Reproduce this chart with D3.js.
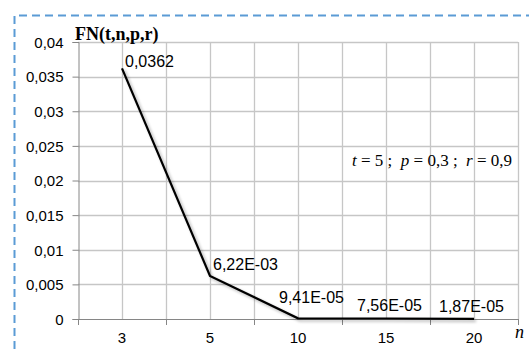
<!DOCTYPE html>
<html>
<head>
<meta charset="utf-8">
<script src="https://cdnjs.cloudflare.com/ajax/libs/d3/7.8.5/d3.min.js"></script>
<style>
body { margin: 0; background: #fff; }
svg { display: block; }
</style>
</head>
<body>
<script>
// data
var nValues = ["3", "5", "10", "15", "20"];
var fnValues = [0.0362, 0.00622, 0.0000941, 0.0000756, 0.0000187];
var pointLabels = ["0,0362", "6,22E-03", "9,41E-05", "7,56E-05", "1,87E-05"];
var yTicks = [0, 0.005, 0.01, 0.015, 0.02, 0.025, 0.03, 0.035, 0.04];
var yTickLabels = ["0", "0,005", "0,01", "0,015", "0,02", "0,025", "0,03", "0,035", "0,04"];

var width = 529, height = 349;

var svg = d3.select("body").append("svg")
    .attr("width", width)
    .attr("height", height);

// dashed frame
svg.append("path")
    .attr("d", "M14.5," + height + " V15.5 H" + width)
    .attr("fill", "none")
    .attr("stroke", "#5b9bd5")
    .attr("stroke-width", 2)
    .attr("stroke-dasharray", "8,5");

var x = d3.scaleBand()
    .domain(nValues)
    .range([78, 518]);

var y = d3.scaleLinear()
    .domain([0, 0.04])
    .range([319, 42]);

// vertical grid: band edges and band centres
var gridX = [];
nValues.forEach(function (d) {
    gridX.push(x(d));
    gridX.push(x(d) + x.bandwidth() / 2);
});
gridX.push(x.range()[1]);

svg.append("g").selectAll("line")
    .data(gridX.slice(1))
    .enter()
    .append("line")
    .attr("x1", function (d) { return Math.round(d) + 0.5; })
    .attr("x2", function (d) { return Math.round(d) + 0.5; })
    .attr("y1", y(0.04))
    .attr("y2", y(0))
    .style("stroke", "#c6c6c6")
    .style("stroke-width", 1.3);

svg.append("g").selectAll("line")
    .data(yTicks.slice(1))
    .enter()
    .append("line")
    .attr("x1", 78)
    .attr("x2", 518)
    .attr("y1", function (d) { return Math.round(y(d)) + 0.5; })
    .attr("y2", function (d) { return Math.round(y(d)) + 0.5; })
    .style("stroke", "#c6c6c6")
    .style("stroke-width", 1.3);

// y axis
var yAxis = d3.axisLeft(y)
    .tickValues(yTicks)
    .tickSize(6)
    .tickFormat(function (d, i) { return yTickLabels[i]; });
var yAxisGroup = svg.append("g")
    .attr("transform", "translate(78.5,0)")
    .call(yAxis);
yAxisGroup.selectAll("text")
    .attr("x", -15)
    .attr("dy", "0.35em")
    .style("font-family", "Liberation Sans, Arial, sans-serif")
    .style("font-size", "15px")
    .style("fill", "#000");
yAxisGroup.selectAll("line, path").style("stroke", "#868686");

// x axis: ticks at band edges, labels at centres
var xEdges = nValues.map(function (d) { return x(d); }).concat([x.range()[1]]);
var xAxisGroup = svg.append("g");
xAxisGroup.append("line")
    .attr("x1", 78)
    .attr("x2", 518)
    .attr("y1", y(0) + 0.5)
    .attr("y2", y(0) + 0.5)
    .style("stroke", "#868686");
xAxisGroup.selectAll(".tk")
    .data(xEdges)
    .enter()
    .append("line")
    .attr("x1", function (d) { return Math.round(d) + 0.5; })
    .attr("x2", function (d) { return Math.round(d) + 0.5; })
    .attr("y1", y(0))
    .attr("y2", y(0) + 6)
    .style("stroke", "#868686");
xAxisGroup.selectAll("text")
    .data(nValues)
    .enter()
    .append("text")
    .attr("x", function (d) { return x(d) + x.bandwidth() / 2; })
    .attr("y", 343)
    .attr("text-anchor", "middle")
    .style("font-family", "Liberation Sans, Arial, sans-serif")
    .style("font-size", "15px")
    .text(function (d) { return d; });

// line with soft shadow
var line = d3.line()
    .x(function (d, i) { return x(nValues[i]) + x.bandwidth() / 2; })
    .y(function (d) { return y(d); });

var defs = svg.append("defs");
var filter = defs.append("filter").attr("id", "shadow")
    .attr("x", "-10%").attr("y", "-10%").attr("width", "130%").attr("height", "130%");
filter.append("feGaussianBlur").attr("in", "SourceAlpha").attr("stdDeviation", 1.5);
filter.append("feOffset").attr("dx", 2).attr("dy", 2).attr("result", "b");
filter.append("feComponentTransfer").append("feFuncA").attr("type", "linear").attr("slope", 0.3);
var merge = filter.append("feMerge");
merge.append("feMergeNode");
merge.append("feMergeNode").attr("in", "SourceGraphic");

svg.append("path")
    .datum(fnValues)
    .attr("d", line)
    .attr("fill", "none")
    .style("stroke", "#000")
    .style("stroke-width", 2.2)
    .attr("filter", "url(#shadow)");

// data labels
var labelOffsets = [[3, -1], [3, -6], [-19, -15], [-29, -7], [-35, -7]];
svg.append("g").selectAll("text")
    .data(fnValues)
    .enter()
    .append("text")
    .attr("x", function (d, i) { return x(nValues[i]) + x.bandwidth() / 2 + labelOffsets[i][0]; })
    .attr("y", function (d, i) { return y(d) + labelOffsets[i][1]; })
    .style("font-family", "Liberation Sans, Arial, sans-serif")
    .style("font-size", "16px")
    .text(function (d, i) { return pointLabels[i]; });

// title
svg.append("text")
    .attr("x", 75)
    .attr("y", 40)
    .style("font-family", "Liberation Serif, Times New Roman, serif")
    .style("font-weight", "bold")
    .style("font-size", "18px")
    .text("FN(t,n,p,r)");

// parameters
var params = svg.append("text")
    .attr("x", 352)
    .attr("y", 166)
    .style("white-space", "pre")
    .style("font-family", "Liberation Serif, Times New Roman, serif")
    .style("font-size", "17px");
params.append("tspan").style("font-style", "italic").text("t");
params.append("tspan").text(" = 5 ;  ");
params.append("tspan").style("font-style", "italic").text("p");
params.append("tspan").text(" = 0,3 ;  ");
params.append("tspan").style("font-style", "italic").text("r");
params.append("tspan").text(" = 0,9");

// axis name
svg.append("text")
    .attr("x", 515)
    .attr("y", 338)
    .style("font-family", "Liberation Serif, Times New Roman, serif")
    .style("font-style", "italic")
    .style("font-size", "18px")
    .text("n");
</script>
</body>
</html>
